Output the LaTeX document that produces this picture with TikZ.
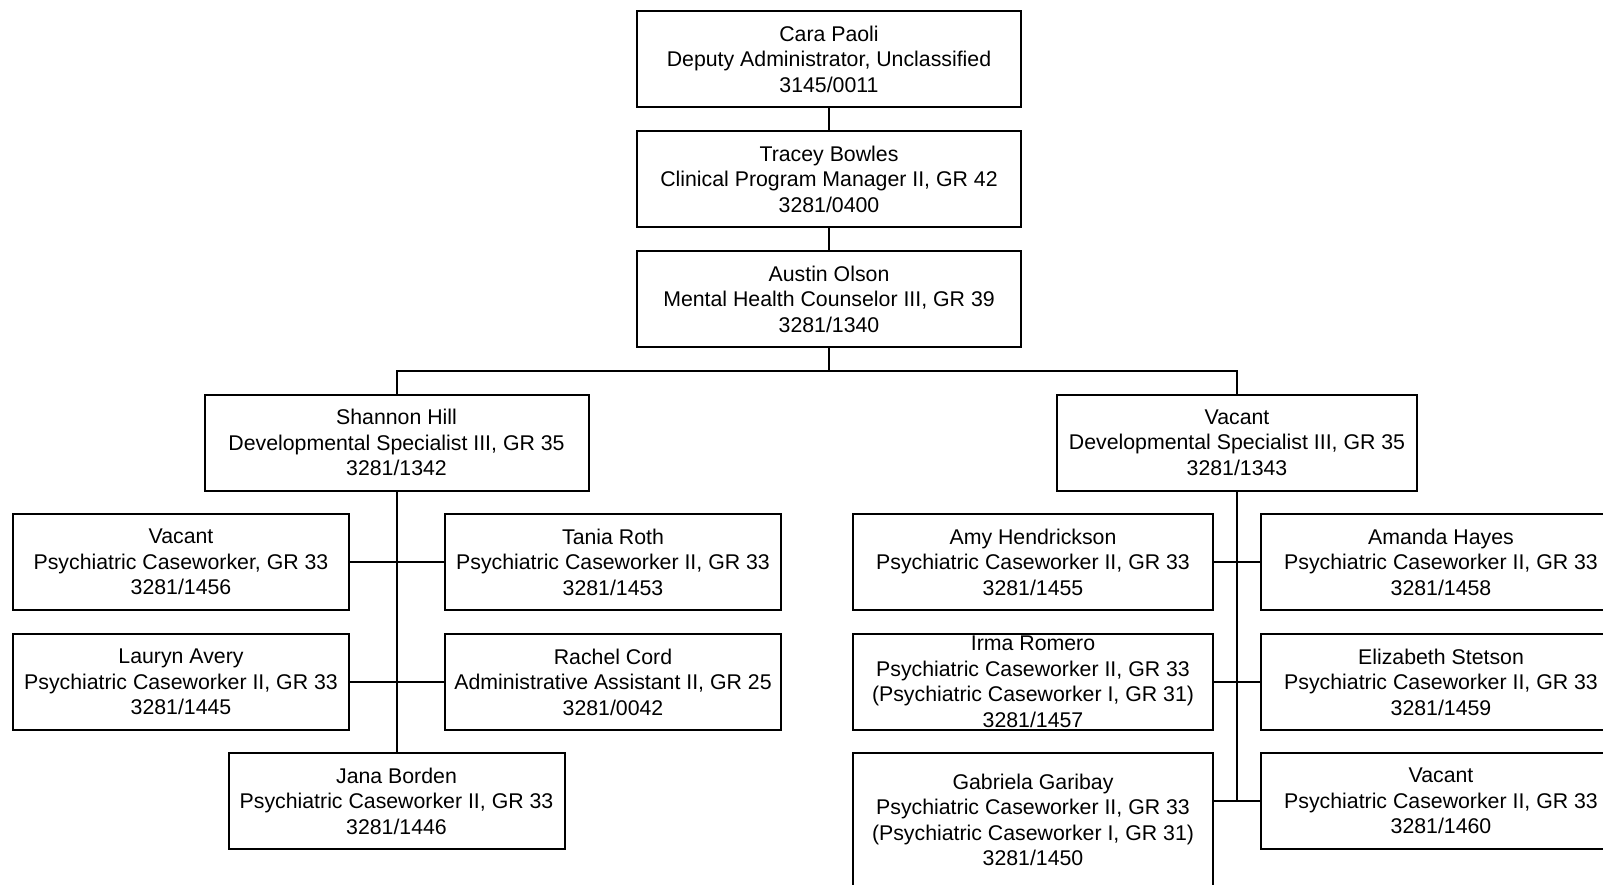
\documentclass[tikz,border=0pt]{standalone}
\usepackage{fontspec}
\setmainfont{Liberation Sans}
\begin{document}
\begin{tikzpicture}[x=1pt,y=-1pt,
  box/.style={draw, line width=2pt, inner sep=0pt, align=center,
    minimum height=96pt, font=\fontsize{21.3}{25.5}\selectfont},
  wA/.style={box, minimum width=384pt},
  wB/.style={box, minimum width=360pt},
  wC/.style={box, minimum width=336pt},
  conn/.style={line width=2pt}]
\path[use as bounding box, clip] (0,0) rectangle (1603,885);
\node[wA] (A) at (829,59) {Cara Paoli\\Deputy Administrator, Unclassified\\3145/0011};
\node[wA] (B) at (829,179) {Tracey Bowles\\Clinical Program Manager II, GR 42\\3281/0400};
\node[wA] (C) at (829,299) {Austin Olson\\Mental Health Counselor III, GR 39\\3281/1340};
\node[wA] (S) at (396.5,442.5) {Shannon Hill\\Developmental Specialist III, GR 35\\3281/1342};
\node[wB] (V) at (1237,442.5) {Vacant\\Developmental Specialist III, GR 35\\3281/1343};
\node[wC] (s1) at (181,562) {Vacant\\Psychiatric Caseworker, GR 33\\3281/1456};
\node[wC] (s2) at (613,562) {Tania Roth\\Psychiatric Caseworker II, GR 33\\3281/1453};
\node[wC] (s3) at (181,682) {Lauryn Avery\\Psychiatric Caseworker II, GR 33\\3281/1445};
\node[wC] (s4) at (613,682) {Rachel Cord\\Administrative Assistant II, GR 25\\3281/0042};
\node[wC] (s5) at (396.5,801) {Jana Borden\\Psychiatric Caseworker II, GR 33\\3281/1446};
\node[wB] (v1) at (1033,562) {Amy Hendrickson\\Psychiatric Caseworker II, GR 33\\3281/1455};
\node[wB] (v2) at (1441,562) {Amanda Hayes\\Psychiatric Caseworker II, GR 33\\3281/1458};
\node[wB] (v3) at (1033,682) {Irma Romero\\Psychiatric Caseworker II, GR 33\\(Psychiatric Caseworker I, GR 31)\\3281/1457};
\node[wB] (v4) at (1441,682) {Elizabeth Stetson\\Psychiatric Caseworker II, GR 33\\3281/1459};
\node[wB, minimum height=134pt] (v5) at (1033,820) {Gabriela Garibay\\Psychiatric Caseworker II, GR 33\\(Psychiatric Caseworker I, GR 31)\\3281/1450};
\node[wB] (v6) at (1441,801) {Vacant\\Psychiatric Caseworker II, GR 33\\3281/1460};
\coordinate (j) at (829,371);
\draw[conn] (A.south) -- (B.north);
\draw[conn] (B.south) -- (C.north);
\draw[conn] (C.south) -- (j);
\draw[conn] (S.north) -- (S.north |- j) -- (V.north |- j) -- (V.north);
\draw[conn] (S.south) -- (s5.north);
\draw[conn] (s1.east) -- (s2.west);
\draw[conn] (s3.east) -- (s4.west);
\draw[conn] (V.south) -- (V.south |- v6.west);
\draw[conn] (v1.east) -- (v2.west);
\draw[conn] (v3.east) -- (v4.west);
\draw[conn] (v5.east |- v6.west) -- (v6.west);
\end{tikzpicture}
\end{document}
